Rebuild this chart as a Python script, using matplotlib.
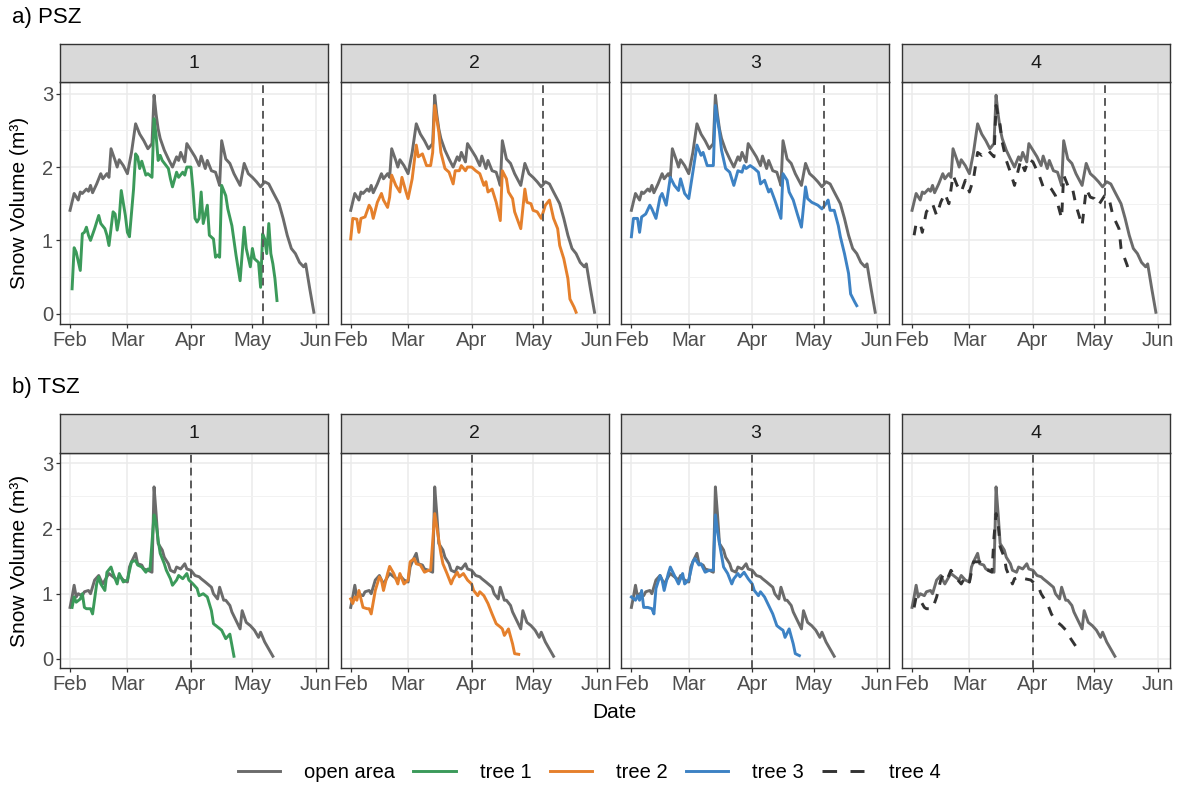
import numpy as np
import matplotlib
matplotlib.use("Agg")
import matplotlib.pyplot as plt
import matplotlib.dates as mdates
from matplotlib.lines import Line2D

plt.rcParams['font.family'] = ['Liberation Sans', 'DejaVu Sans']

START = np.datetime64('2019-02-01')
panels = ['1', '2', '3', '4']
series_names = ['open area', 'tree 1', 'tree 2', 'tree 3', 'tree 4']

# ---- a) PSZ (day offset from 1 Feb, snow volume m3)
psz_open_day = [0, 2, 4, 5, 6, 8, 9, 10, 11, 13, 15, 16, 18, 19, 20, 22, 23, 24, 26, 28,
                30, 32, 34, 36, 38, 40, 41, 42, 43, 44, 46, 48, 50, 52, 53, 54, 56, 57, 59, 61,
                63, 64, 66, 67, 69, 71, 72, 73, 74, 76, 78, 80, 83, 85, 87, 89, 91, 93, 95, 97,
                99, 102, 104, 106, 108, 110, 112, 114, 115, 117, 119]
psz_open = [1.41, 1.64, 1.55, 1.66, 1.64, 1.70, 1.67, 1.75, 1.65, 1.77, 1.91, 1.84, 1.91, 1.86,
            2.25, 2.09, 2.00, 2.10, 2.02, 1.91, 2.20, 2.59, 2.45, 2.36, 2.25, 2.32, 2.98, 2.72,
            2.52, 2.39, 2.23, 2.11, 2.00, 2.14, 2.09, 2.20, 2.07, 2.32, 2.23, 2.14, 2.02, 2.15,
            1.98, 2.09, 1.95, 1.93, 1.84, 1.75, 2.36, 2.11, 2.05, 1.91, 1.75, 2.05, 1.91, 1.86,
            1.80, 1.73, 1.80, 1.77, 1.66, 1.50, 1.30, 1.07, 0.89, 0.82, 0.70, 0.64, 0.68, 0.34,
            0.02]

psz_tree1_day = [1, 2, 3, 5, 6, 7, 8, 9, 10, 12, 14, 15, 17, 18, 19, 21, 22, 23, 24, 25,
                 27, 28, 29, 31, 32, 33, 34, 35, 37, 38, 40, 41, 42, 43, 44, 45, 48, 49, 50, 52,
                 53, 55, 56, 57, 59, 60, 61, 62, 63, 64, 65, 67, 68, 70, 71, 72, 73, 74, 76, 77,
                 79, 81, 83, 85, 86, 88, 89, 90, 92, 93, 94, 95, 96, 97, 98, 99, 100, 101]
psz_tree1 = [0.34, 0.90, 0.84, 0.59, 1.09, 1.11, 1.18, 1.07, 1.00, 1.16, 1.34, 1.23, 1.16, 1.07,
             0.93, 1.39, 1.36, 1.14, 1.30, 1.68, 1.34, 1.11, 1.05, 1.70, 2.18, 2.14, 1.98, 2.08,
             1.89, 1.91, 1.86, 2.66, 2.43, 2.09, 2.16, 2.09, 1.98, 1.84, 1.73, 1.93, 1.86, 1.93,
             1.89, 2.00, 2.00, 1.70, 1.30, 1.25, 1.30, 1.66, 1.23, 1.48, 1.07, 1.02, 0.77, 0.80,
             0.77, 1.75, 1.61, 1.43, 1.20, 0.80, 0.45, 1.18, 0.89, 0.64, 0.89, 0.75, 0.70, 0.36,
             1.09, 1.02, 0.82, 1.23, 0.82, 0.68, 0.48, 0.18]

psz_tree2_day = [0, 1, 3, 4, 5, 7, 9, 10, 11, 13, 15, 16, 18, 19, 20, 22, 24, 25, 27, 28,
                 30, 32, 33, 35, 37, 39, 40, 41, 43, 44, 46, 48, 50, 51, 53, 54, 56, 57, 59, 61,
                 63, 65, 66, 67, 69, 71, 73, 74, 76, 77, 79, 80, 83, 85, 86, 88, 89, 91, 93, 95,
                 97, 99, 101, 102, 104, 106, 107, 109, 110]
psz_tree2 = [1.02, 1.30, 1.29, 1.11, 1.30, 1.32, 1.48, 1.43, 1.30, 1.52, 1.64, 1.55, 1.45, 1.59,
             1.89, 1.75, 1.66, 1.86, 1.66, 1.57, 1.84, 2.30, 2.14, 2.18, 2.02, 2.02, 2.20, 2.84,
             2.48, 2.20, 1.98, 1.93, 1.77, 1.95, 1.95, 2.02, 1.95, 2.00, 2.00, 1.95, 1.91, 1.75,
             1.80, 1.66, 1.70, 1.52, 1.27, 1.95, 1.84, 1.66, 1.57, 1.39, 1.16, 1.70, 1.52, 1.50,
             1.41, 1.39, 1.30, 1.48, 1.55, 1.30, 1.16, 0.93, 0.75, 0.48, 0.20, 0.09, 0.02]

psz_tree3_day = [0, 1, 3, 4, 5, 7, 9, 10, 12, 14, 15, 17, 19, 21, 23, 24, 26, 28, 30, 32,
                 34, 35, 37, 40, 41, 43, 44, 46, 48, 50, 52, 54, 55, 56, 58, 60, 62, 63, 65, 67,
                 68, 70, 73, 74, 76, 77, 79, 81, 83, 85, 86, 88, 91, 93, 95, 96, 97, 99, 101, 102,
                 104, 106, 107, 109, 110]
psz_tree3 = [1.05, 1.30, 1.30, 1.11, 1.32, 1.36, 1.48, 1.43, 1.30, 1.59, 1.64, 1.48, 1.86, 1.75,
             1.68, 1.84, 1.64, 1.57, 1.93, 2.30, 2.16, 2.20, 2.02, 2.02, 2.84, 2.48, 2.23, 1.98,
             1.93, 1.75, 1.95, 1.93, 2.02, 1.98, 2.02, 1.98, 1.93, 1.77, 1.82, 1.66, 1.70, 1.55,
             1.30, 1.91, 1.82, 1.66, 1.55, 1.36, 1.18, 1.73, 1.57, 1.52, 1.48, 1.43, 1.50, 1.55,
             1.41, 1.41, 1.20, 1.05, 0.82, 0.55, 0.27, 0.16, 0.11]

psz_tree4_day = [1, 2, 4, 5, 7, 10, 12, 14, 16, 18, 20, 22, 24, 26, 28, 30, 32, 34, 37, 40,
                 41, 43, 44, 46, 48, 50, 53, 55, 57, 59, 62, 64, 66, 68, 70, 73, 74, 76, 78, 80,
                 83, 85, 87, 89, 91, 94, 96, 98, 101, 102, 105, 106]
psz_tree4 = [1.07, 1.23, 1.23, 1.11, 1.39, 1.50, 1.34, 1.52, 1.64, 1.50, 1.89, 1.75, 1.66, 1.82,
             1.66, 1.84, 2.20, 2.16, 2.23, 2.14, 2.84, 2.57, 2.34, 2.09, 1.93, 1.75, 2.09, 1.95,
             2.11, 2.07, 1.89, 1.73, 1.75, 1.70, 1.61, 1.30, 1.89, 1.75, 1.75, 1.48, 1.20, 1.70,
             1.59, 1.57, 1.48, 1.61, 1.59, 1.34, 1.16, 0.89, 0.66, 0.55]

# ---- b) TSZ
tsz_open_day = [0, 1, 2, 3, 4, 6, 7, 9, 10, 12, 14, 15, 16, 18, 19, 21, 23, 24, 26, 28,
                29, 30, 32, 33, 35, 36, 38, 40, 41, 42, 43, 45, 46, 48, 49, 51, 52, 54, 56, 57,
                59, 61, 63, 64, 66, 69, 70, 72, 73, 75, 76, 78, 79, 81, 83, 84, 86, 88, 90, 92,
                93, 95, 97, 99]
tsz_open = [0.79, 0.95, 1.13, 0.95, 1.00, 0.97, 1.03, 1.05, 1.00, 1.21, 1.28, 1.21, 1.15, 1.26,
            1.31, 1.26, 1.21, 1.28, 1.21, 1.18, 1.41, 1.49, 1.62, 1.46, 1.44, 1.38, 1.36, 1.33,
            2.64, 2.23, 1.77, 1.67, 1.56, 1.46, 1.36, 1.33, 1.41, 1.38, 1.46, 1.38, 1.36, 1.28,
            1.26, 1.23, 1.18, 1.10, 1.00, 0.92, 1.10, 0.90, 0.90, 0.82, 0.72, 0.59, 0.46, 0.74,
            0.56, 0.51, 0.44, 0.33, 0.41, 0.26, 0.15, 0.04]

tsz_tree1_day = [1, 2, 3, 5, 6, 7, 8, 10, 11, 13, 14, 15, 17, 18, 20, 21, 23, 24, 26, 28,
                 30, 32, 33, 35, 37, 38, 39, 41, 42, 43, 44, 46, 47, 49, 50, 52, 53, 55, 57, 58,
                 60, 62, 63, 65, 67, 69, 70, 72, 74, 76, 78, 79, 80]
tsz_tree1 = [0.79, 0.95, 0.87, 0.92, 1.00, 0.79, 0.77, 0.77, 0.69, 1.15, 1.26, 1.15, 1.05, 1.33,
             1.41, 1.31, 1.15, 1.31, 1.18, 1.21, 1.49, 1.51, 1.44, 1.41, 1.33, 1.38, 1.36, 2.21,
             2.08, 1.82, 1.62, 1.46, 1.36, 1.23, 1.13, 1.21, 1.28, 1.23, 1.31, 1.21, 1.15, 1.08,
             0.97, 1.00, 0.95, 0.74, 0.54, 0.49, 0.44, 0.31, 0.38, 0.21, 0.04]

tsz_tree2_day = [0, 1, 2, 3, 4, 6, 8, 9, 10, 12, 14, 15, 16, 18, 19, 21, 23, 24, 26, 28,
                 29, 31, 32, 34, 36, 38, 39, 41, 42, 43, 44, 45, 47, 49, 50, 52, 53, 55, 57, 59,
                 60, 62, 63, 65, 67, 69, 71, 73, 74, 75, 77, 79, 80, 82]
tsz_tree2 = [0.92, 0.85, 0.95, 0.90, 1.05, 0.79, 0.77, 0.77, 0.69, 1.05, 1.26, 1.21, 1.05, 1.31,
             1.42, 1.31, 1.15, 1.31, 1.15, 1.21, 1.49, 1.54, 1.46, 1.44, 1.33, 1.36, 1.36, 2.23,
             2.03, 1.82, 1.62, 1.46, 1.31, 1.15, 1.23, 1.33, 1.26, 1.31, 1.21, 1.15, 1.05, 0.97,
             1.03, 0.97, 0.85, 0.69, 0.54, 0.49, 0.46, 0.36, 0.46, 0.23, 0.08, 0.07]

tsz_tree3_day = [0, 2, 3, 4, 5, 6, 8, 10, 11, 12, 14, 15, 16, 18, 19, 21, 23, 25, 26, 28,
                 30, 31, 33, 34, 36, 38, 40, 41, 42, 43, 44, 45, 47, 49, 50, 52, 53, 55, 57, 59,
                 60, 62, 63, 65, 67, 69, 71, 73, 74, 75, 77, 79, 80, 82]
tsz_tree3 = [0.95, 0.90, 0.97, 0.90, 1.05, 0.79, 0.79, 0.77, 0.69, 1.08, 1.28, 1.21, 1.05, 1.31,
             1.41, 1.28, 1.15, 1.31, 1.15, 1.21, 1.49, 1.54, 1.44, 1.46, 1.33, 1.36, 1.36, 2.21,
             1.97, 1.77, 1.59, 1.41, 1.31, 1.15, 1.23, 1.31, 1.26, 1.33, 1.23, 1.15, 1.05, 0.97,
             1.03, 0.95, 0.82, 0.69, 0.51, 0.46, 0.44, 0.33, 0.46, 0.23, 0.08, 0.05]

tsz_tree4_day = [1, 2, 4, 6, 7, 10, 12, 14, 15, 17, 19, 21, 24, 26, 28, 30, 33, 37, 39, 40,
                 41, 42, 43, 45, 46, 49, 50, 53, 55, 58, 60, 62, 63, 66, 68, 70, 73, 76, 77, 80]
tsz_tree4 = [0.79, 0.95, 0.90, 0.79, 0.77, 0.77, 0.95, 1.21, 1.28, 1.21, 1.36, 1.26, 1.15, 1.26,
             1.18, 1.49, 1.49, 1.36, 1.33, 1.87, 2.23, 2.08, 1.72, 1.56, 1.38, 1.15, 1.23, 1.26,
             1.23, 1.21, 1.15, 1.08, 1.00, 0.85, 0.69, 0.59, 0.51, 0.41, 0.33, 0.19]

psz_cutoff = '2019-05-06'
tsz_cutoff = '2019-04-01'

# styles
colors = ['#6b6b6b', '#3b9a5a', '#e5802c', '#3d82c4', '#333333']
LW = 2.1
DASH = (3.3, 3.3)
W, H = 1181, 788

fig = plt.figure(figsize=(W / 100, H / 100), dpi=100)


def px_axes(x0, y0, x1, y1):
    return fig.add_axes([x0 / W, 1 - y1 / H, (x1 - x0) / W, (y1 - y0) / H])


def to_dates(days):
    return START + np.array(days).astype('timedelta64[D]')


rows = [
    dict(title='a) PSZ', title_y=18, strip=(44, 82), plot=(82, 324),
         open=(psz_open_day, psz_open),
         trees=[(psz_tree1_day, psz_tree1), (psz_tree2_day, psz_tree2),
                (psz_tree3_day, psz_tree3), (psz_tree4_day, psz_tree4)],
         cutoff=psz_cutoff),
    dict(title='b) TSZ', title_y=388, strip=(414, 453), plot=(453, 668),
         open=(tsz_open_day, tsz_open),
         trees=[(tsz_tree1_day, tsz_tree1), (tsz_tree2_day, tsz_tree2),
                (tsz_tree3_day, tsz_tree3), (tsz_tree4_day, tsz_tree4)],
         cutoff=tsz_cutoff),
]

x0 = mdates.date2num(START)
pw = 268
for row in rows:
    top, bottom = row['plot']
    for i, name in enumerate(panels):
        left = 60 + i * 280.67
        ax = px_axes(left, top, left + pw, bottom)
        ax.plot(to_dates(row['open'][0]), row['open'][1], color=colors[0], lw=LW,
                solid_joinstyle='round', zorder=3)
        d, v = row['trees'][i]
        if i == 3:
            ax.plot(to_dates(d), v, color=colors[4], lw=LW, dashes=DASH, zorder=4)
        else:
            ax.plot(to_dates(d), v, color=colors[i + 1], lw=LW,
                    solid_joinstyle='round', zorder=4)
        ax.axvline(np.datetime64(row['cutoff']), color='#5a5a5a', lw=1.4,
                   dashes=(4, 2.6), zorder=5)
        ax.set_xlim(x0 - 4.9, x0 + 125.9)
        ax.set_ylim(-0.14, 3.16)
        ax.xaxis.set_major_locator(mdates.MonthLocator())
        ax.xaxis.set_major_formatter(mdates.DateFormatter('%b'))
        ax.set_yticks([0, 1, 2, 3])
        ax.set_yticks([0.5, 1.5, 2.5], minor=True)
        ax.grid(which='major', color='#ebebeb', lw=1.1)
        ax.grid(which='minor', axis='y', color='#f2f2f2', lw=0.7)
        ax.set_axisbelow(True)
        ax.tick_params(which='minor', left=False)
        ax.tick_params(axis='both', length=3, width=0.9, color='#333333',
                       labelcolor='#4d4d4d', labelsize=14.5, pad=2)
        if i > 0:
            ax.tick_params(axis='y', left=False, labelleft=False)
        for s in ax.spines.values():
            s.set_color('#333333')
            s.set_linewidth(1.0)

        sax = px_axes(left, row['strip'][0], left + pw, row['strip'][1])
        sax.set_facecolor('#d9d9d9')
        sax.set_xticks([])
        sax.set_yticks([])
        for s in sax.spines.values():
            s.set_color('#333333')
            s.set_linewidth(1.0)
        sax.text(0.5, 0.5, name, ha='center', va='center', fontsize=14,
                 color='#1a1a1a', transform=sax.transAxes)

    fig.text(12 / W, 1 - row['title_y'] / H, row['title'], ha='left', va='center',
             fontsize=16)
    fig.text(20 / W, 1 - (top + bottom) / 2 / H, 'Snow Volume (m³)', rotation=90,
             ha='center', va='center', fontsize=15)

fig.text(614 / W, 1 - 713 / H, 'Date', ha='center', va='center', fontsize=15)

handles = [Line2D([], [], color=colors[0], lw=LW),
           Line2D([], [], color=colors[1], lw=LW),
           Line2D([], [], color=colors[2], lw=LW),
           Line2D([], [], color=colors[3], lw=LW),
           Line2D([], [], color=colors[4], lw=LW, dashes=(5.0, 4.6))]
fig.legend(handles, series_names, loc='center', bbox_to_anchor=(589 / W, 1 - 773 / H),
           ncol=5, frameon=False, fontsize=14.5, handlelength=2.1, handletextpad=1.2,
           columnspacing=0.9)

fig.savefig('out.png', dpi=100)
